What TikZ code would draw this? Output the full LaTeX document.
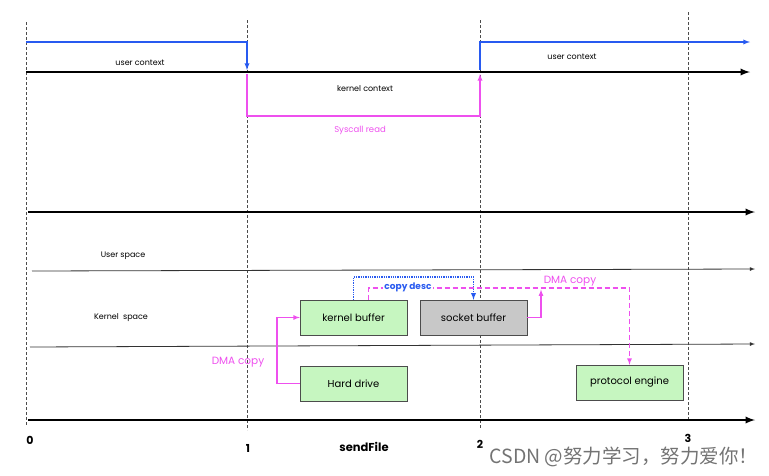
\documentclass[tikz,border=0pt]{standalone}
\usepackage{fontspec}
\setmainfont{Poppins}
\newfontfamily\cjk{Noto Sans CJK SC}
\usepackage{xcolor}
\usetikzlibrary{shapes,arrows,positioning,calc}
\definecolor{bufgreen}{RGB}{198,246,192}
\definecolor{bufgray}{RGB}{200,200,200}
\definecolor{dmapink}{RGB}{238,80,238}
\definecolor{ctxblue}{RGB}{40,90,240}

\begin{document}
\begin{tikzpicture}[x=1pt,y=-1pt,
  buf/.style={draw=black!70, fill=bufgreen, minimum width=107pt, minimum height=35pt, font=\fontsize{10}{12}\selectfont},
  lbl/.style={font=\fontsize{8}{10}\selectfont},
  tick/.style={densely dashed, black!70, line width=0.8pt},
  axis/.style={-latex, line width=2.2pt},
  thinaxis/.style={-latex, line width=0.8pt, black!80}]
\useasboundingbox (0,0) rectangle (769,475);

% Time marks
\coordinate (t0) at (26,22);  \coordinate (b0) at (26,425);
\coordinate (t1) at (247,20); \coordinate (b1) at (247,430);
\coordinate (t2) at (480,20); \coordinate (b2) at (480,428);
\coordinate (t3) at (688,12); \coordinate (b3) at (688,420);
\foreach \i in {0,1,2,3}
  \draw[tick] (t\i) -- (b\i);

% Context timeline
\coordinate (ua) at (26,42);   \coordinate (ub) at (247,42);  \coordinate (uc) at (247,70);
\coordinate (ud) at (480,70);  \coordinate (ue) at (480,42);  \coordinate (uf) at (750,42);
\coordinate (ka) at (26,72);   \coordinate (kb) at (750,72);
\coordinate (sa) at (247,74);  \coordinate (sb) at (247,116); \coordinate (sc) at (480,116); \coordinate (sd) at (480,74);
\draw[axis] (ka) -- (kb);
\draw[-latex, ctxblue, line width=1.3pt] (ua) -- (ub) -- (uc);
\draw[-latex, ctxblue, line width=1.3pt] (ud) -- (ue) -- (uf);
\draw[-latex, dmapink, line width=1.3pt] (sa) -- (sb) -- (sc) -- (sd);
\node[lbl] (uctx1) at (140,63) {user context};
\node[lbl] (kctx) at (365,89) {kernel context};
\node[lbl, text=dmapink, font=\fontsize{8.5}{10}\selectfont] (sysread) at (360,130) {Syscall read};
\node[lbl] (uctx2) at (572,57) {user context};

% Space layers
\coordinate (la) at (28,212);  \coordinate (lb) at (755,212);
\coordinate (ma) at (32,271);  \coordinate (mb) at (755,269);
\coordinate (na) at (30,347);  \coordinate (nb) at (755,344);
\coordinate (oa) at (28,420);  \coordinate (ob) at (755,420);
\draw[axis] (la) -- (lb);
\draw[thinaxis] (ma) -- (mb);
\draw[thinaxis] (na) -- (nb);
\draw[axis] (oa) -- (ob);
\node[lbl] (uspace) at (123,256) {User space};
\node[lbl] (kspace) at (121,318) {Kernel\ \ space};

% Buffers
\node[buf] (kbuf) at (353.5,317.5) {kernel buffer};
\node[buf, fill=bufgray] (sbuf) at (473.5,317.5) {socket buffer};
\node[buf] (disk) at (353.5,383.5) {Hard drive};
\node[buf] (proto) at (629.5,382.5) {protocol engine};

% Copies
\coordinate (dl) at (277,0);
\draw[-latex, dmapink, line width=1.2pt] (disk.west) -- (disk.west -| dl) -- (kbuf.west -| dl) -- (kbuf.west);
\node[font=\fontsize{10.5}{12}\selectfont, text=dmapink] (dma1) at (238,362) {DMA copy};
\coordinate (cd) at (0,277);
\draw[-latex, ctxblue, densely dotted, line width=1.3pt] (kbuf.north) -- (kbuf.north |- cd) -- (sbuf.north |- cd) -- (sbuf.north);
\coordinate (pk) at ($(kbuf.north)+(15,0)$);
\coordinate (pd) at (0,288);
\draw[-latex, dmapink, dash pattern=on 5pt off 3pt, line width=1.2pt] (pk) -- (pk |- pd) -- (proto.north |- pd) -- (proto.north);
\node[font=\fontsize{9}{10}\selectfont\bfseries, text=ctxblue, fill=white, inner sep=1pt] (cdesc) at (408,287) {copy desc};
\coordinate (sr) at (541,0);
\draw[-latex, dmapink, line width=1.2pt] (sbuf.east) -- (sbuf.east -| sr) -- ($(sbuf.east -| sr)+(0,-28)$);
\node[font=\fontsize{10.5}{12}\selectfont, text=dmapink] (dma2) at (570,281) {DMA copy};

% Axis labels
\node[font=\fontsize{11}{12}\selectfont\bfseries] (n0) at (30,440) {0};
\node[font=\fontsize{11}{12}\selectfont\bfseries] (n1) at (248,448) {1};
\node[font=\fontsize{11}{12}\selectfont\bfseries] (n2) at (480,444) {2};
\node[font=\fontsize{11}{12}\selectfont\bfseries] (n3) at (688,438) {3};
\node[font=\fontsize{11.5}{13}\selectfont\bfseries] (sendf) at (364,447) {sendFile};
\node[font=\cjk\fontsize{19.5}{21}\selectfont, text=black!55] (mark) at (624,457) {CSDN @努力学习，努力爱你！};
\end{tikzpicture}
\end{document}
